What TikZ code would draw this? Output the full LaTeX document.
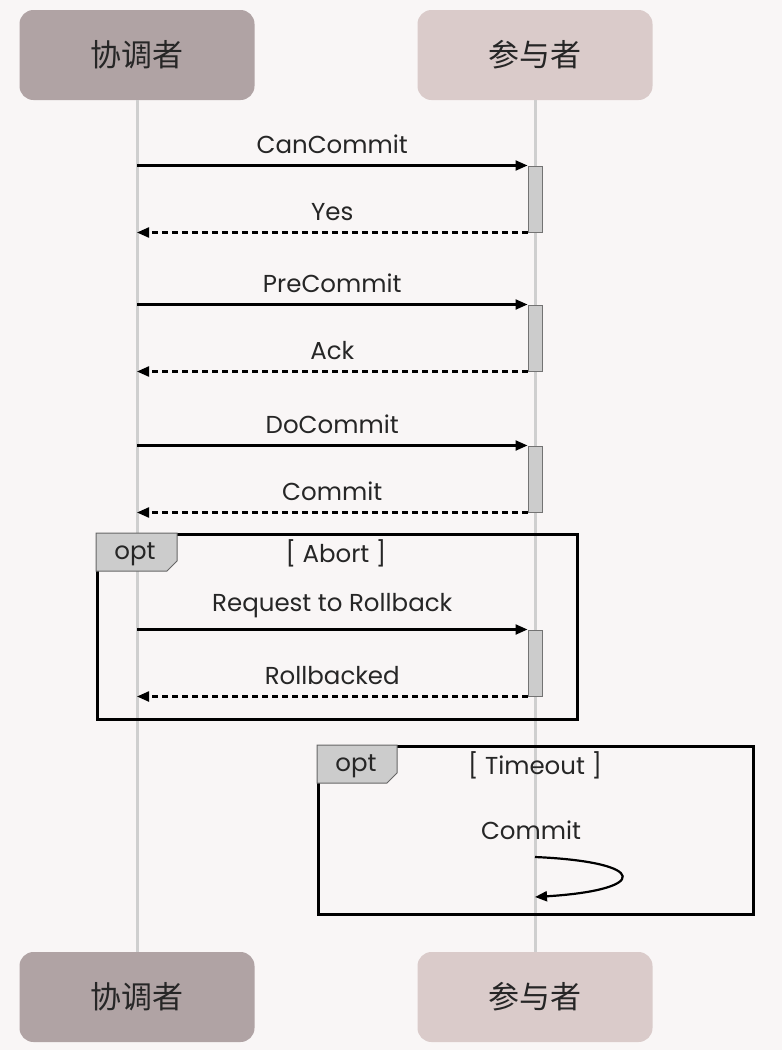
\documentclass[tikz,border=0pt]{standalone}
\usepackage{fontspec}
\setmainfont{Poppins}
\newfontfamily\cjk{Noto Sans CJK SC}
\usetikzlibrary{arrows.meta,calc}
\definecolor{bgcol}{HTML}{F9F6F6}
\definecolor{coordcol}{HTML}{B0A3A4}
\definecolor{partcol}{HTML}{DACBCA}
\definecolor{barcol}{HTML}{CCCCCC}
\definecolor{linecol}{HTML}{CFCFCF}
\tikzset{
  actor/.style={rounded corners=14pt,minimum width=235pt,minimum height=90pt,
    inner sep=0pt,font=\cjk\fontsize{31}{34}\selectfont,text=black!85},
  lifeline/.style={linecol,line width=3pt},
  actbar/.style={draw=black!55,fill=barcol,line width=1pt,minimum width=14pt,
    minimum height=66pt,inner sep=0pt},
  msg/.style={->,line width=2.2pt},
  reply/.style={->,line width=2.2pt,dash pattern=on 6pt off 4pt},
  lbl/.style={font=\fontsize{24.5}{28}\selectfont,text=black!85,inner sep=0pt},
  optframe/.style={draw,line width=3pt,anchor=north west,inner sep=0pt},
  opttag/.style={fill=barcol,draw=black!60,line width=1pt}
}
\begin{document}
\begin{tikzpicture}[x=1pt,y=-1pt,>={Triangle[length=12pt,width=10pt]}]
\pgfmathsetmacro{\xc}{137}
\pgfmathsetmacro{\xp}{535}
\fill[bgcol] (0,0) rectangle (782,1050);
\useasboundingbox (0,0) rectangle (782,1050);
% actors
\node[actor,fill=coordcol] (ctop) at (\xc,55) {协调者};
\node[actor,fill=partcol] (ptop) at (\xp,55) {参与者};
\node[actor,fill=coordcol] (cbot) at (\xc,997) {协调者};
\node[actor,fill=partcol] (pbot) at (\xp,997) {参与者};
\draw[lifeline] (ctop.south) -- (cbot.north);
\draw[lifeline] (ptop.south) -- (pbot.north);
% activation bars
\node[actbar] (act1) at (\xp,199) {};
\node[actbar] (act2) at (\xp,338) {};
\node[actbar] (act3) at (\xp,479) {};
\node[actbar] (act4) at (\xp,663) {};
% messages
\draw[msg] (act1.north west -| ctop) -- (act1.north west)
  node[lbl,midway,above=11pt] (m1) {CanCommit};
\draw[reply] (act1.south west) -- (act1.south west -| ctop)
  node[lbl,midway,above=11pt] (m2) {Yes};
\draw[msg] (act2.north west -| ctop) -- (act2.north west)
  node[lbl,midway,above=11pt] (m3) {PreCommit};
\draw[reply] (act2.south west) -- (act2.south west -| ctop)
  node[lbl,midway,above=11pt] (m4) {Ack};
\draw[msg] (act3.north west -| ctop) -- (act3.north west)
  node[lbl,midway,above=11pt] (m5) {DoCommit};
\draw[reply] (act3.south west) -- (act3.south west -| ctop)
  node[lbl,midway,above=11pt] (m6) {Commit};
% opt Abort
\node[optframe,minimum width=480pt,minimum height=185pt] (abort) at (96,533) {};
\draw[opttag] (abort.north west) -- ++(81,0) -- ++(0,28) -- ++(-10,10) -| cycle;
\node[lbl] (abtag) at ($(abort.north west)+(39,21)$) {opt};
\node[lbl] (abguard) at (336,553) {[ Abort ]};
\draw[msg] (act4.north west -| ctop) -- (act4.north west)
  node[lbl,midway,above=11pt] (m7) {Request to Rollback};
\draw[reply] (act4.south west) -- (act4.south west -| ctop)
  node[lbl,midway,above=11pt] (m8) {Rollbacked};
% opt Timeout
\node[optframe,minimum width=435pt,minimum height=168pt] (tmout) at (317,745) {};
\draw[opttag] (tmout.north west) -- ++(80,0) -- ++(0,28) -- ++(-10,10) -| cycle;
\node[lbl] (totag) at ($(tmout.north west)+(39,21)$) {opt};
\node[lbl] (toguard) at (\xp,765) {[ Timeout ]};
\node[lbl] (self) at (531,830) {Commit};
\coordinate (s1) at (\xp,857);
\coordinate (s2) at (\xp,897);
\draw[msg] (s1) .. controls (650,862) and (650,890) .. (s2);
\end{tikzpicture}
\end{document}
